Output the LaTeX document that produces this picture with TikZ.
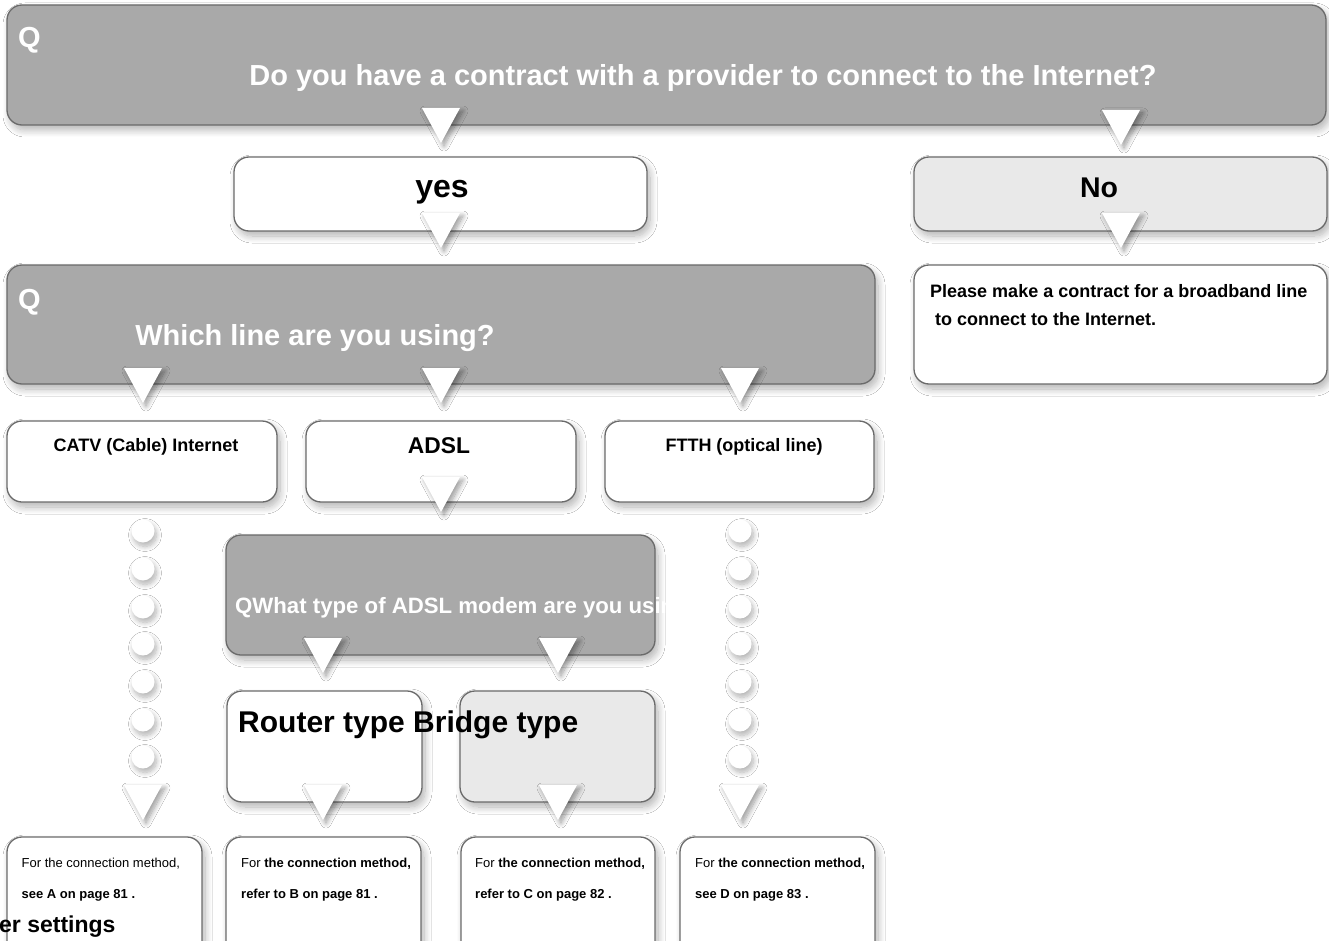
\documentclass[tikz,border=0pt]{standalone}
\usepackage{fontspec}
\setmainfont{Liberation Sans}
\usetikzlibrary{shadows.blur}
\definecolor{qgray}{HTML}{A9A9A9}
\definecolor{lgray}{HTML}{E9E9E9}
\definecolor{edgegray}{HTML}{6A6A6A}
\newcommand\fHead{\fontsize{29}{34}\selectfont\bfseries}
\newcommand\fYes{\fontsize{32}{36}\selectfont\bfseries}
\newcommand\fMid{\fontsize{18}{21}\selectfont\bfseries}
\newcommand\fSmall{\fontsize{13}{15}\selectfont}
\newcommand\dtri[2]{\fill[tri] ({#1-19},#2) -- ({#1+19},#2) -- (#1,{#2+35}) -- cycle;}
\begin{document}
\begin{tikzpicture}[x=1pt,y=-1pt,
  box/.style={draw=edgegray, line width=1.3pt, rounded corners=15pt, anchor=north west,
    inner sep=0pt, outer sep=0pt,
    blur shadow={shadow xshift=3pt, shadow yshift=-5pt, shadow blur radius=7pt, shadow blur steps=12, shadow opacity=30}},
  qbox/.style={box, fill=qgray},
  wbox/.style={box, fill=white},
  lbox/.style={box, fill=lgray},
  tri/.style={white, blur shadow={shadow xshift=3pt, shadow yshift=-3pt, shadow blur radius=5pt, shadow blur steps=10, shadow opacity=40}},
  bead/.style={circle, fill=white, minimum size=23pt, inner sep=0pt,
    blur shadow={shadow xshift=2pt, shadow yshift=-4pt, shadow blur radius=5pt, shadow blur steps=10, shadow opacity=30}},
  wtxt/.style={text=white, inner sep=0pt},
  btxt/.style={text=black, inner sep=0pt}]
\useasboundingbox (0,0) rectangle (1329,941);
\clip (0,0) rectangle (1329,941);
\fill[white] (0,0) rectangle (1329,941);

% boxes
\node[qbox, minimum width=1319pt, minimum height=120pt] (qtop) at (7,5) {};
\node[wbox, minimum width=413pt, minimum height=74pt] (yes) at (234,157) {};
\node[lbox, minimum width=413pt, minimum height=74pt] (no) at (914,157) {};
\node[qbox, minimum width=868pt, minimum height=119pt] (qline) at (7,265) {};
\node[wbox, minimum width=413pt, minimum height=119pt] (please) at (914,265) {};
\node[wbox, minimum width=270pt, minimum height=81pt] (catv) at (7,421) {};
\node[wbox, minimum width=270pt, minimum height=81pt] (adsl) at (306,421) {};
\node[wbox, minimum width=269pt, minimum height=81pt] (ftth) at (605,421) {};
\node[qbox, minimum width=429pt, minimum height=120pt] (qmodem) at (226,535) {};
\node[wbox, minimum width=195pt, minimum height=111pt] (router) at (227,691) {};
\node[lbox, minimum width=195pt, minimum height=111pt] (bridge) at (460,691) {};
\node[wbox, minimum width=195pt, minimum height=163pt] (ra) at (7,837) {};
\node[wbox, minimum width=195pt, minimum height=163pt] (rb) at (226,837) {};
\node[wbox, minimum width=194pt, minimum height=163pt] (rc) at (461,837) {};
\node[wbox, minimum width=195pt, minimum height=163pt] (rd) at (680,837) {};

% dots
\foreach \yy in {531,569,607,644,682,720,757} {
  \node[bead] (dl\yy) at (143,\yy) {};
  \node[bead] (dr\yy) at (740,\yy) {};
}

% triangles
\dtri{441}{108}
\dtri{1121}{110}
\dtri{441}{213}
\dtri{1121}{213}
\dtri{143}{368}
\dtri{441}{368}
\dtri{740}{368}
\dtri{441}{477}
\dtri{323}{638}
\dtri{558}{638}
\dtri{143}{785}
\dtri{740}{785}
\dtri{323}{785}
\dtri{558}{785}

% texts
\node[wtxt, anchor=base west] (qtopQ) at (18,48) {\fHead Q};
\node[wtxt, anchor=base] (qtopT) at (703,86) {\fHead Do you have a contract with a provider to connect to the Internet?};
\node[btxt, anchor=base] (yesT) at (442,198) {\fYes yes};
\node[btxt, anchor=base] (noT) at (1099,198) {\fontsize{28.5}{32}\selectfont\bfseries No};
\node[wtxt, anchor=base west] (qlineQ) at (18,309) {\fHead Q};
\node[wtxt, anchor=base] (qlineT) at (315,345) {\fHead Which line are you using?};
\node[btxt, anchor=base west] (pl1) at (930,297) {\fMid Please make a contract for a broadband line};
\node[btxt, anchor=base west] (pl2) at (935,325) {\fMid to connect to the Internet.};
\node[btxt, anchor=base] (catvT) at (146,451) {\fMid CATV (Cable) Internet};
\node[btxt, anchor=base] (adslT) at (439,453) {\fontsize{22.8}{26}\selectfont\bfseries ADSL};
\node[btxt, anchor=base] (ftthT) at (744,451) {\fMid FTTH (optical line)};
\begin{scope}
  \clip (226,535) rectangle (670,655);
  \node[wtxt, anchor=base west] (qmodemT) at (235,613) {\fontsize{22.2}{26}\selectfont\bfseries QWhat type of ADSL modem are you using?};
\end{scope}
\node[btxt, anchor=base west] (rtT) at (238,732) {\fontsize{30}{34}\selectfont\bfseries Router type Bridge type};

\node[btxt, anchor=base west] (ra1) at (21.5,867) {\fSmall For the connection method,};
\node[btxt, anchor=base west] (ra2) at (21.5,898) {\fSmall\bfseries see A on page 81 .};
\node[btxt, anchor=base west] (rb1) at (241,867) {\fSmall For \textbf{the connection method,}};
\node[btxt, anchor=base west] (rb2) at (241,898) {\fSmall\bfseries refer to B on page 81 .};
\node[btxt, anchor=base west] (rc1) at (475,867) {\fSmall For \textbf{the connection method,}};
\node[btxt, anchor=base west] (rc2) at (475,898) {\fSmall\bfseries refer to C on page 82 .};
\node[btxt, anchor=base west] (rd1) at (695,867) {\fSmall For \textbf{the connection method,}};
\node[btxt, anchor=base west] (rd2) at (695,898) {\fSmall\bfseries see D on page 83 .};

\node[btxt, anchor=base west] (settT) at (-1,932) {\fontsize{23}{26}\selectfont\bfseries er settings};
\end{tikzpicture}
\end{document}
